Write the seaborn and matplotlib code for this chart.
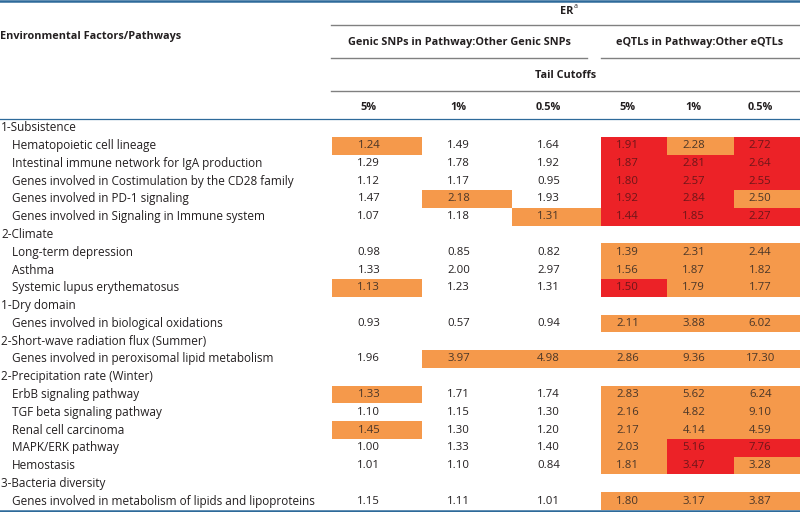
import numpy as np
import pandas as pd
import matplotlib
matplotlib.use("Agg")
import matplotlib.pyplot as plt
import matplotlib.transforms as mtransforms
from matplotlib.colors import ListedColormap
import seaborn as sns

# --- table content ---
CATEGORIES = ['1-Subsistence', '2-Climate', '1-Dry domain',
              '2-Short-wave radiation flux (Summer)', '2-Precipitation rate (Winter)',
              '3-Bacteria diversity']
CATEGORY_SIZES = [5, 3, 1, 1, 5, 1]

PATHWAYS = [
    'Hematopoietic cell lineage',
    'Intestinal immune network for IgA production',
    'Genes involved in Costimulation by the CD28 family',
    'Genes involved in PD-1 signaling',
    'Genes involved in Signaling in Immune system',
    'Long-term depression',
    'Asthma',
    'Systemic lupus erythematosus',
    'Genes involved in biological oxidations',
    'Genes involved in peroxisomal lipid metabolism',
    'ErbB signaling pathway',
    'TGF beta signaling pathway',
    'Renal cell carcinoma',
    'MAPK/ERK pathway',
    'Hemostasis',
    'Genes involved in metabolism of lipids and lipoproteins',
]

CUTOFFS = ['5%', '1%', '0.5%']

# genic SNPs in pathway : other genic SNPs
genic_5 = [1.24, 1.29, 1.12, 1.47, 1.07, 0.98, 1.33, 1.13, 0.93, 1.96, 1.33, 1.10, 1.45, 1.00, 1.01, 1.15]
genic_1 = [1.49, 1.78, 1.17, 2.18, 1.18, 0.85, 2.00, 1.23, 0.57, 3.97, 1.71, 1.15, 1.30, 1.33, 1.10, 1.11]
genic_05 = [1.64, 1.92, 0.95, 1.93, 1.31, 0.82, 2.97, 1.31, 0.94, 4.98, 1.74, 1.30, 1.20, 1.40, 0.84, 1.01]

# eQTLs in pathway : other eQTLs
eqtl_5 = [1.91, 1.87, 1.80, 1.92, 1.44, 1.39, 1.56, 1.50, 2.11, 2.86, 2.83, 2.16, 2.17, 2.03, 1.81, 1.80]
eqtl_1 = [2.28, 2.81, 2.57, 2.84, 1.85, 2.31, 1.87, 1.79, 3.88, 9.36, 5.62, 4.82, 4.14, 5.16, 3.47, 3.17]
eqtl_05 = [2.72, 2.64, 2.55, 2.50, 2.27, 2.44, 1.82, 1.77, 6.02, 17.30, 6.24, 9.10, 4.59, 7.76, 3.28, 3.87]

# cell shading level: 0 = none, 1 = orange, 2 = red
genic_5_hl = [1, 0, 0, 0, 0, 0, 0, 1, 0, 0, 1, 0, 1, 0, 0, 0]
genic_1_hl = [0, 0, 0, 1, 0, 0, 0, 0, 0, 1, 0, 0, 0, 0, 0, 0]
genic_05_hl = [0, 0, 0, 0, 1, 0, 0, 0, 0, 1, 0, 0, 0, 0, 0, 0]
eqtl_5_hl = [2, 2, 2, 2, 2, 1, 1, 2, 1, 1, 1, 1, 1, 1, 1, 1]
eqtl_1_hl = [1, 2, 2, 2, 2, 1, 1, 1, 1, 1, 1, 1, 1, 2, 2, 1]
eqtl_05_hl = [2, 2, 2, 1, 2, 1, 1, 1, 1, 1, 1, 1, 1, 2, 1, 1]

ORANGE = '#F5994B'
RED = '#EC2227'
BLUE = '#2E6A9A'
GRAY = '#808080'
TEXT = '#231F20'
TEXT_COLORS = {0: TEXT, 1: '#4A3628', 2: '#6E1619'}


def build_rows(values_cols, hl_cols):
    """Insert empty category rows in front of each group."""
    labels, is_cat, vals, lev = [], [], [], []
    k = 0
    for cat, n in zip(CATEGORIES, CATEGORY_SIZES):
        labels.append(cat)
        is_cat.append(True)
        vals.append([np.nan] * len(values_cols))
        lev.append([np.nan] * len(values_cols))
        for _ in range(n):
            labels.append(PATHWAYS[k])
            is_cat.append(False)
            vals.append([c[k] for c in values_cols])
            lev.append([c[k] for c in hl_cols])
            k += 1
    return labels, is_cat, np.array(vals, float), np.array(lev, float)


labels, is_cat, genic_vals, genic_lev = build_rows(
    [genic_5, genic_1, genic_05], [genic_5_hl, genic_1_hl, genic_05_hl])
_, _, eqtl_vals, eqtl_lev = build_rows(
    [eqtl_5, eqtl_1, eqtl_05], [eqtl_5_hl, eqtl_1_hl, eqtl_05_hl])

plt.rcParams['font.family'] = ['Open Sans', 'DejaVu Sans']
FS_LABEL = 8.5
FS_NUM = 8.2
FS_HEAD = 7.8

fig = plt.figure(figsize=(8, 5.12), dpi=100)
W, H = 800.0, 512.0
top_px, bot_px = 119.0, 510.0
cmap = ListedColormap(['white', ORANGE, RED])


def draw_block(x0, x1, vals, lev, shift):
    ax = fig.add_axes([x0 / W, (H - bot_px) / H, (x1 - x0) / W, (bot_px - top_px) / H])
    annot = np.where(np.isnan(vals), '', np.vectorize(lambda v: f'{v:.2f}')(np.nan_to_num(vals)))
    df = pd.DataFrame(lev, columns=CUTOFFS)
    sns.heatmap(df, ax=ax, cmap=cmap, vmin=-0.5, vmax=2.5, cbar=False,
                annot=annot, fmt='', annot_kws={'fontsize': FS_NUM},
                xticklabels=False, yticklabels=False, linewidths=0)
    for t in ax.texts:
        x, y = t.get_position()
        i, j = int(y), int(x)
        t.set_color(TEXT_COLORS[int(lev[i, j])])
        t.set_position((x - shift, y))
    ax.set_xlabel('')
    ax.set_ylabel('')
    for s in ax.spines.values():
        s.set_visible(False)
    return ax


ax_g = draw_block(332, 601.5, genic_vals, genic_lev, 0.09)
ax_e = draw_block(601, 800, eqtl_vals, eqtl_lev, 0.1)

# row labels, placed on the heatmap row scale
trans = mtransforms.blended_transform_factory(fig.transFigure, ax_g.transData)
for i, (lab, cat) in enumerate(zip(labels, is_cat)):
    x = 1 / W if cat else 12 / W
    fig.text(x, i + 0.5, lab, transform=trans, ha='left', va='center',
             fontsize=FS_LABEL, color=TEXT)

# header overlay in pixel coordinates
ov = fig.add_axes([0, 0, 1, 1])
ov.set_xlim(0, W)
ov.set_ylim(H, 0)
ov.axis('off')
ov.patch.set_alpha(0)

ov.plot([0, W], [1, 1], color=BLUE, lw=1.8)
ov.plot([0, W], [118.5, 118.5], color=BLUE, lw=0.9)
ov.plot([0, W], [510.8, 510.8], color=BLUE, lw=1.8)
ov.plot([331, W], [25, 25], color=GRAY, lw=1.0)
ov.plot([331, 587], [58, 58], color=GRAY, lw=1.0)
ov.plot([601, W], [58, 58], color=GRAY, lw=1.0)
ov.plot([331, W], [91, 91], color=GRAY, lw=1.0)

bold = dict(fontsize=FS_HEAD, fontweight='bold', color=TEXT, va='center')
ov.text(0, 37, 'Environmental Factors/Pathways', ha='left', **bold)
ov.text(573, 11, 'ER', ha='right', **bold)
ov.text(573.5, 7, 'a', ha='left', fontsize=5, color=TEXT, va='center')
ov.text(459, 43, 'Genic SNPs in Pathway:Other Genic SNPs', ha='center', **bold)
ov.text(700, 43, 'eQTLs in Pathway:Other eQTLs', ha='center', **bold)
ov.text(566, 75, 'Tail Cutoffs', ha='center', **bold)

hdr = mtransforms.blended_transform_factory(ax_g.transData, ov.transData)
for j, c in enumerate(CUTOFFS):
    ov.text(j + 0.5 - 0.09, 108, c, transform=hdr, ha='center', **bold)
hdr_e = mtransforms.blended_transform_factory(ax_e.transData, ov.transData)
for j, c in enumerate(CUTOFFS):
    ov.text(j + 0.5 - 0.1, 108, c, transform=hdr_e, ha='center', **bold)

fig.savefig('out.png', dpi=100)
